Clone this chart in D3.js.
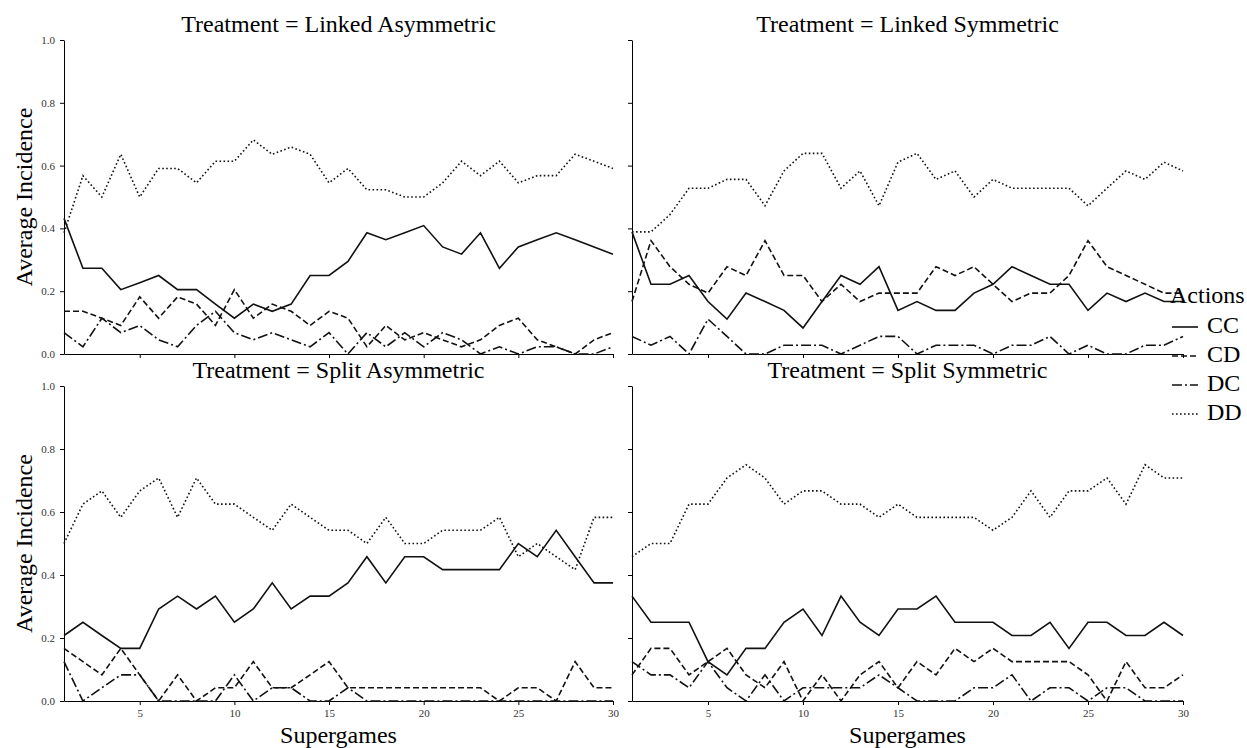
<!DOCTYPE html>
<html>
<head>
<meta charset="utf-8">
<script src="https://cdn.jsdelivr.net/npm/d3@7"></script>
<style>
  html, body { margin: 0; padding: 0; background: #fff; }
  svg { display: block; }
  text { font-family: "Liberation Serif", "Times New Roman", serif; }
</style>
</head>
<body>
<svg id="chart" width="1247" height="748"></svg>
<script>
// Supergame index on the x axis
const supergames = [1,2,3,4,5,6,7,8,9,10,11,12,13,14,15,16,17,18,19,20,21,22,23,24,25,26,27,28,29,30];
const actions = ["CC", "CD", "DC", "DD"];
const treatments = ["Linked Asymmetric", "Linked Symmetric", "Split Asymmetric", "Split Symmetric"];
const xTicks = [5, 10, 15, 20, 25, 30];
const yTicks = [0, 0.2, 0.4, 0.6, 0.8, 1.0];

// Average incidence of each action profile per supergame
const linkedAsymCC = [.432,.273,.273,.205,.227,.25,.205,.205,.159,.114,.159,.136,.159,.25,.25,.295,.386,.364,.386,.409,.341,.318,.386,.273,.341,.364,.386,.364,.341,.318];
const linkedAsymCD = [.136,.136,.114,.091,.182,.114,.182,.159,.091,.205,.114,.159,.136,.091,.136,.114,.023,.091,.045,.068,.045,.023,.045,.091,.114,.045,.023,0,.045,.068];
const linkedAsymDC = [.068,.023,.114,.068,.091,.045,.023,.091,.136,.068,.045,.068,.045,.023,.068,0,.068,.023,.068,.023,.068,.045,0,.023,0,.023,.023,0,0,.023];
const linkedAsymDD = [.386,.568,.5,.636,.5,.591,.591,.545,.614,.614,.682,.636,.659,.636,.545,.591,.523,.523,.5,.5,.545,.614,.568,.614,.545,.568,.568,.636,.614,.591];

const linkedSymCC = [.389,.222,.222,.25,.167,.111,.194,.167,.139,.083,.167,.25,.222,.278,.139,.167,.139,.139,.194,.222,.278,.25,.222,.222,.139,.194,.167,.194,.167,.167];
const linkedSymCD = [.167,.361,.278,.222,.194,.278,.25,.361,.25,.25,.167,.222,.167,.194,.194,.194,.278,.25,.278,.222,.167,.194,.194,.25,.361,.278,.25,.222,.194,.194];
const linkedSymDC = [.056,.028,.056,0,.111,.056,0,0,.028,.028,.028,0,.028,.056,.056,0,.028,.028,.028,0,.028,.028,.056,0,.028,0,0,.028,.028,.056];
const linkedSymDD = [.389,.389,.444,.528,.528,.556,.556,.472,.583,.639,.639,.528,.583,.472,.611,.639,.556,.583,.5,.556,.528,.528,.528,.528,.472,.528,.583,.556,.611,.583];

const splitAsymCC = [.208,.25,.208,.167,.167,.292,.333,.292,.333,.25,.292,.375,.292,.333,.333,.375,.458,.375,.458,.458,.417,.417,.417,.417,.5,.458,.542,.458,.375,.375];
const splitAsymCD = [.167,.125,.083,.167,.083,0,.083,0,.042,.042,.125,.042,.042,.083,.125,.042,.042,.042,.042,.042,.042,.042,.042,0,.042,.042,0,.125,.042,.042];
const splitAsymDC = [.125,0,.042,.083,.083,0,0,0,0,.083,0,.042,.042,0,0,.042,0,0,0,0,0,0,0,0,0,0,0,0,0,0];
const splitAsymDD = [.5,.625,.667,.583,.667,.708,.583,.708,.625,.625,.583,.542,.625,.583,.542,.542,.5,.583,.5,.5,.542,.542,.542,.583,.458,.5,.458,.417,.583,.583];

const splitSymCC = [.333,.25,.25,.25,.125,.083,.167,.167,.25,.292,.208,.333,.25,.208,.292,.292,.333,.25,.25,.25,.208,.208,.25,.167,.25,.25,.208,.208,.25,.208];
const splitSymCD = [.083,.167,.167,.083,.125,.167,.083,.042,.125,0,.083,0,.083,.125,.042,.125,.083,.167,.125,.167,.125,.125,.125,.125,.083,0,.125,.042,.042,.083];
const splitSymDC = [.125,.083,.083,.042,.125,.042,0,.083,0,.042,.042,.042,.042,.083,.042,0,0,0,.042,.042,.083,0,.042,.042,0,.042,.042,0,0,0];
const splitSymDD = [.458,.5,.5,.625,.625,.708,.75,.708,.625,.667,.667,.625,.625,.583,.625,.583,.583,.583,.583,.542,.583,.667,.583,.667,.667,.708,.625,.75,.708,.708];

const seriesByTreatment = [
  [linkedAsymCC, linkedAsymCD, linkedAsymDC, linkedAsymDD],
  [linkedSymCC, linkedSymCD, linkedSymDC, linkedSymDD],
  [splitAsymCC, splitAsymCD, splitAsymDC, splitAsymDD],
  [splitSymCC, splitSymCD, splitSymDC, splitSymDD]
];

// Line style for each action profile: solid, dashed, dash-dot, dotted
const dashes = { CC: null, CD: "6,3", DC: "10,3,2,3", DD: "1.6,2.4" };

const svg = d3.select("#chart");

// Panel frames (2 x 2 facet grid)
const cols = [[64, 613], [632, 1183]];
const rows = [[354, 40], [701, 386]];

treatments.forEach((t, i) => {
  const c = i % 2, r = Math.floor(i / 2);
  const x = d3.scaleLinear().domain([1, 30]).range(cols[c]);
  const y = d3.scaleLinear().domain([0, 1]).range(rows[r]);
  const g = svg.append("g");

  // x axis
  const xAxis = d3.axisBottom(x).tickValues(xTicks).tickSize(4).tickPadding(4).tickSizeOuter(0);
  const gx = g.append("g").attr("transform", `translate(0,${rows[r][0]})`).call(xAxis);
  if (r === 0) gx.selectAll(".tick text").remove();

  // y axis
  const yAxis = d3.axisLeft(y).tickValues(yTicks).tickFormat(d3.format(".1f")).tickSize(4).tickPadding(5).tickSizeOuter(0);
  const gy = g.append("g").attr("transform", `translate(${cols[c][0]},0)`).call(yAxis);
  if (c === 1) gy.selectAll(".tick text").remove();

  [gx, gy].forEach(a => {
    a.select(".domain").attr("stroke", "#000").attr("stroke-width", 1);
    a.selectAll(".tick line").attr("stroke", "#000").attr("stroke-width", 1);
    a.selectAll(".tick text")
      .attr("fill", "#333")
      .style("font-family", "'Liberation Serif', serif")
      .style("font-size", "11px");
  });

  // panel title
  g.append("text")
    .attr("x", (cols[c][0] + cols[c][1]) / 2)
    .attr("y", rows[r][1] - 8)
    .attr("text-anchor", "middle")
    .style("font-size", "24px")
    .attr("fill", "#000")
    .text(`Treatment = ${t}`);

  // series lines
  const line = d3.line()
    .x((d, k) => x(supergames[k]))
    .y(d => y(d));
  actions.forEach((a, j) => {
    g.append("path")
      .datum(seriesByTreatment[i][j])
      .attr("d", line)
      .attr("fill", "none")
      .attr("stroke", "#111")
      .attr("stroke-width", 1.6)
      .attr("stroke-linejoin", "miter")
      .attr("stroke-dasharray", dashes[a]);
  });

  // axis titles
  if (c === 0) {
    g.append("text")
      .attr("transform", `translate(32,${(rows[r][0] + rows[r][1]) / 2}) rotate(-90)`)
      .attr("text-anchor", "middle")
      .style("font-size", "24px")
      .text("Average Incidence");
  }
  if (r === 1) {
    g.append("text")
      .attr("x", (cols[c][0] + cols[c][1]) / 2)
      .attr("y", 743)
      .attr("text-anchor", "middle")
      .style("font-size", "24px")
      .text("Supergames");
  }
});

// Legend
const legend = svg.append("g");
legend.append("text")
  .attr("x", 1170).attr("y", 303)
  .style("font-size", "24px")
  .text("Actions");
actions.forEach((a, j) => {
  const by = 333 + j * 29;
  legend.append("line")
    .attr("x1", 1172).attr("x2", 1198)
    .attr("y1", by - 6).attr("y2", by - 6)
    .attr("stroke", "#111")
    .attr("stroke-width", 1.6)
    .attr("stroke-dasharray", dashes[a]);
  legend.append("text")
    .attr("x", 1207).attr("y", by)
    .style("font-size", "24px")
    .text(a);
});
</script>
</body>
</html>
